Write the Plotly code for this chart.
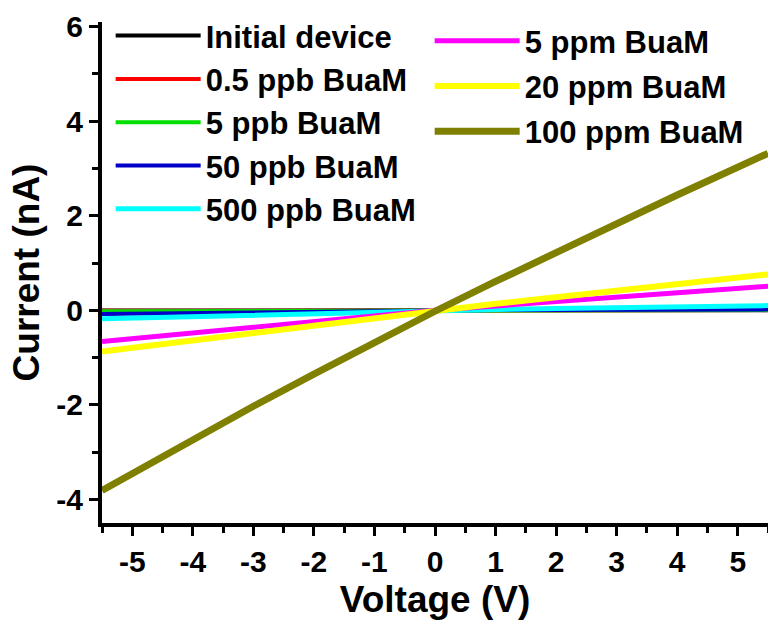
import plotly.graph_objects as go

voltage = [-5.5, -4, -3, -2, -1, 0, 1, 2, 3, 4, 5.5]

series_names = ["Initial device", "0.5 ppb BuaM", "5 ppb BuaM", "50 ppb BuaM",
                "500 ppb BuaM", "5 ppm BuaM", "20 ppm BuaM", "100 ppm BuaM"]

i_initial = [-0.005, -0.004, -0.003, -0.002, -0.001, 0.0, 0.001, 0.001, 0.002, 0.002, 0.003]
i_05ppb   = [-0.01, -0.007, -0.005, -0.004, -0.002, 0.0, 0.001, 0.002, 0.002, 0.003, 0.004]
i_5ppb    = [-0.02, -0.015, -0.011, -0.007, -0.004, 0.0, 0.002, 0.004, 0.005, 0.006, 0.008]
i_50ppb   = [-0.08, -0.058, -0.043, -0.029, -0.014, 0.0, 0.004, 0.008, 0.012, 0.015, 0.02]
i_500ppb  = [-0.18, -0.13, -0.098, -0.065, -0.032, 0.0, 0.019, 0.037, 0.055, 0.073, 0.10]
i_5ppm    = [-0.66, -0.48, -0.36, -0.24, -0.12, 0.0, 0.093, 0.186, 0.28, 0.37, 0.51]
i_20ppm   = [-0.87, -0.63, -0.475, -0.317, -0.158, 0.0, 0.138, 0.276, 0.415, 0.553, 0.76]
i_100ppm  = [-3.81, -2.73, -2.03, -1.35, -0.68, -0.02, 0.61, 1.23, 1.84, 2.44, 3.32]

series_values = [i_initial, i_05ppb, i_5ppb, i_50ppb, i_500ppb, i_5ppm, i_20ppm, i_100ppm]
colors = ["#000000", "#ff0000", "#00e000", "#0000c8", "#00ffff", "#ff00ff", "#ffff00", "#808000"]
widths = [4, 4, 4, 4, 5, 5, 6, 7]
legend_ids = ["legend", "legend", "legend", "legend", "legend", "legend2", "legend2", "legend2"]

x_ticks = [-5, -4, -3, -2, -1, 0, 1, 2, 3, 4, 5]
y_ticks = [-4, -2, 0, 2, 4, 6]

FONT = "Liberation Sans, Arial, sans-serif"

fig = go.Figure()
for k, (name, vals, col, w, lg) in enumerate(zip(series_names, series_values, colors, widths, legend_ids)):
    fig.add_trace(go.Scatter(
        x=voltage, y=vals, mode="lines", name=name,
        line=dict(color=col, width=w),
        legend=lg, legendgroup=f"g{k}",
    ))

axis_common = dict(
    showline=True, linewidth=4, linecolor="black",
    ticks="outside", ticklen=9, tickwidth=3, tickcolor="black",
    showgrid=False, zeroline=False, mirror=False,
    tickfont=dict(family=FONT, size=30, color="black", weight="bold"),
)

fig.update_xaxes(
    range=[-5.5, 5.5], tickvals=x_ticks, ticktext=[str(v) for v in x_ticks],
    minor=dict(dtick=0.5, ticklen=6, tickwidth=3, tickcolor="black", ticks="outside", showgrid=False),
    title=dict(text="Voltage (V)", font=dict(family=FONT, size=37, color="black", weight="bold"), standoff=10),
    **axis_common,
)
fig.update_yaxes(
    range=[-4.5, 6.1], tickvals=y_ticks, ticktext=[str(v) for v in y_ticks],
    minor=dict(dtick=1, ticklen=6, tickwidth=3, tickcolor="black", ticks="outside", showgrid=False),
    title=dict(text="Current (nA)", font=dict(family=FONT, size=37, color="black", weight="bold"), standoff=6),
    **axis_common,
)

legend_common = dict(
    bgcolor="rgba(0,0,0,0)", borderwidth=0,
    font=dict(family=FONT, size=31, color="black", weight="bold"),
    itemwidth=85, xanchor="left", yanchor="top",
)

fig.update_layout(
    width=768, height=621,
    margin=dict(l=102, r=0, t=22, b=98),
    paper_bgcolor="white", plot_bgcolor="white",
    showlegend=True,
    legend=dict(x=0.013, y=1.026, tracegroupgap=0, **legend_common),
    legend2=dict(x=0.492, y=1.016, tracegroupgap=2, **legend_common),
)

fig.write_html("out.html")
